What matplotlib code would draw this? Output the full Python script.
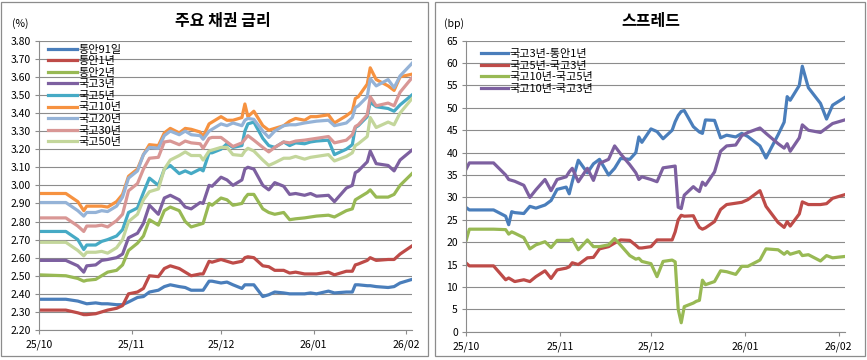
import pandas as pd
import matplotlib
matplotlib.use("Agg")
import matplotlib.pyplot as plt
import matplotlib.dates as mdates
from matplotlib.patches import Rectangle

plt.rcParams["font.family"] = ["Noto Sans CJK KR", "DejaVu Sans"]

# ---- left chart: bond yields (%) ----
dates_l = ["2025-10-01", "2025-10-10", "2025-10-14", "2025-10-16", "2025-10-17", "2025-10-20",
           "2025-10-22", "2025-10-24", "2025-10-27", "2025-10-29", "2025-10-31",
           "2025-11-03", "2025-11-05", "2025-11-07", "2025-11-10", "2025-11-12", "2025-11-14",
           "2025-11-17", "2025-11-19", "2025-11-21", "2025-11-24", "2025-11-25", "2025-11-27",
           "2025-11-28",
           "2025-12-01", "2025-12-03", "2025-12-05", "2025-12-08", "2025-12-09", "2025-12-10",
           "2025-12-12", "2025-12-15", "2025-12-17", "2025-12-19", "2025-12-22", "2025-12-24",
           "2025-12-26", "2025-12-29", "2025-12-31",
           "2026-01-02", "2026-01-06", "2026-01-08", "2026-01-12", "2026-01-14", "2026-01-15",
           "2026-01-16", "2026-01-19", "2026-01-20", "2026-01-22", "2026-01-26", "2026-01-28",
           "2026-01-30", "2026-02-03"]

msb_91d = [2.37, 2.37, 2.36, 2.35, 2.345, 2.35, 2.345, 2.345, 2.34, 2.34, 2.355,
           2.38, 2.385, 2.41, 2.42, 2.44, 2.45, 2.44, 2.435, 2.42, 2.42, 2.42, 2.47, 2.47,
           2.46, 2.465, 2.45, 2.43, 2.45, 2.45, 2.45, 2.385, 2.395, 2.41, 2.405, 2.40, 2.40, 2.40, 2.405,
           2.40, 2.415, 2.405, 2.41, 2.41, 2.45, 2.45, 2.445, 2.445, 2.44, 2.435, 2.44, 2.46,
           2.48]
msb_1y = [2.31, 2.31, 2.295, 2.285, 2.285, 2.29, 2.30, 2.31, 2.32, 2.335, 2.40,
          2.41, 2.43, 2.50, 2.495, 2.54, 2.555, 2.54, 2.52, 2.50, 2.51, 2.51, 2.58, 2.575,
          2.59, 2.58, 2.57, 2.58, 2.60, 2.605, 2.60, 2.555, 2.55, 2.53, 2.53, 2.515, 2.52, 2.51, 2.51,
          2.51, 2.52, 2.505, 2.525, 2.525, 2.56, 2.565, 2.585, 2.60, 2.585, 2.59, 2.59, 2.62,
          2.665]
msb_2y = [2.505, 2.50, 2.485, 2.47, 2.475, 2.48, 2.50, 2.52, 2.53, 2.56, 2.64,
          2.68, 2.72, 2.81, 2.78, 2.86, 2.88, 2.86, 2.80, 2.77, 2.785, 2.79, 2.90, 2.89,
          2.93, 2.92, 2.89, 2.90, 2.93, 2.95, 2.95, 2.87, 2.85, 2.84, 2.85, 2.81, 2.815, 2.82, 2.825,
          2.83, 2.835, 2.825, 2.86, 2.87, 2.92, 2.93, 2.96, 2.975, 2.935, 2.935, 2.95, 3.00,
          3.065]
ktb_3y = [2.585, 2.585, 2.555, 2.52, 2.555, 2.56, 2.585, 2.59, 2.60, 2.62, 2.71,
          2.735, 2.79, 2.89, 2.84, 2.93, 2.945, 2.92, 2.88, 2.87, 2.905, 2.90, 3.00, 2.995,
          3.045, 3.03, 3.00, 3.03, 3.09, 3.10, 3.09, 3.00, 2.975, 3.015, 2.995, 2.95, 2.955, 2.945, 2.955,
          2.94, 2.945, 2.91, 2.985, 3.00, 3.07, 3.08, 3.13, 3.19, 3.12, 3.11, 3.08, 3.14,
          3.195]
ktb_5y = [2.745, 2.745, 2.70, 2.645, 2.67, 2.67, 2.69, 2.70, 2.72, 2.755, 2.85,
          2.875, 2.96, 3.04, 3.00, 3.09, 3.11, 3.065, 3.08, 3.065, 3.09, 3.08, 3.18, 3.18,
          3.20, 3.23, 3.21, 3.22, 3.30, 3.34, 3.35, 3.26, 3.22, 3.21, 3.24, 3.22, 3.235, 3.23, 3.24,
          3.245, 3.25, 3.17, 3.20, 3.225, 3.32, 3.33, 3.38, 3.46, 3.435, 3.425, 3.41, 3.445,
          3.50]
ktb_10y = [2.955, 2.955, 2.91, 2.86, 2.885, 2.885, 2.885, 2.88, 2.91, 2.95, 3.05,
           3.09, 3.17, 3.225, 3.22, 3.29, 3.315, 3.29, 3.315, 3.31, 3.295, 3.27, 3.34, 3.35,
           3.38, 3.36, 3.36, 3.375, 3.45, 3.38, 3.41, 3.33, 3.305, 3.315, 3.33, 3.355, 3.37, 3.36, 3.38,
           3.38, 3.39, 3.345, 3.385, 3.41, 3.48, 3.49, 3.56, 3.65, 3.585, 3.55, 3.525, 3.60,
           3.615]
ktb_20y = [2.905, 2.905, 2.86, 2.83, 2.85, 2.85, 2.86, 2.855, 2.885, 2.935, 3.04,
           3.08, 3.17, 3.21, 3.205, 3.275, 3.30, 3.28, 3.30, 3.28, 3.275, 3.255, 3.30, 3.31,
           3.34, 3.33, 3.345, 3.33, 3.36, 3.37, 3.365, 3.30, 3.265, 3.30, 3.33, 3.335, 3.335, 3.345, 3.35,
           3.355, 3.36, 3.33, 3.345, 3.375, 3.43, 3.44, 3.49, 3.59, 3.55, 3.585, 3.54, 3.605,
           3.675]
ktb_30y = [2.82, 2.82, 2.775, 2.745, 2.775, 2.775, 2.78, 2.77, 2.805, 2.84, 2.97,
           3.01, 3.09, 3.15, 3.155, 3.24, 3.245, 3.225, 3.245, 3.235, 3.23, 3.205, 3.26, 3.265,
           3.265, 3.24, 3.215, 3.235, 3.255, 3.275, 3.25, 3.21, 3.185, 3.21, 3.24, 3.235, 3.245, 3.25, 3.255,
           3.26, 3.27, 3.235, 3.25, 3.28, 3.325, 3.335, 3.39, 3.49, 3.44, 3.455, 3.44, 3.515,
           3.595]
ktb_50y = [2.685, 2.685, 2.64, 2.61, 2.63, 2.63, 2.635, 2.625, 2.655, 2.70, 2.80,
           2.84, 2.92, 2.965, 2.98, 3.09, 3.14, 3.165, 3.185, 3.165, 3.165, 3.14, 3.19, 3.195,
           3.21, 3.21, 3.17, 3.165, 3.19, 3.205, 3.19, 3.14, 3.11, 3.125, 3.15, 3.15, 3.16, 3.145, 3.155,
           3.16, 3.17, 3.135, 3.16, 3.18, 3.22, 3.23, 3.27, 3.375, 3.32, 3.35, 3.335, 3.40,
           3.48]

labels_l = ["통안91일", "통안1년", "통안2년", "국고3년", "국고5년", "국고10년", "국고20년", "국고30년", "국고50년"]
colors_l = ["#4A7EBB", "#BE4B48", "#98B954", "#7D60A0", "#46AAC5", "#F69240", "#95B3D7", "#D99795", "#C3D69B"]

# ---- right chart: spreads (bp) ----
dates_r = ["2025-10-01", "2025-10-02", "2025-10-10", "2025-10-14", "2025-10-15", "2025-10-16",
           "2025-10-17", "2025-10-20", "2025-10-22", "2025-10-24", "2025-10-27", "2025-10-29",
           "2025-10-31",
           "2025-11-03", "2025-11-04", "2025-11-05", "2025-11-07", "2025-11-10", "2025-11-12",
           "2025-11-14", "2025-11-17", "2025-11-19", "2025-11-21", "2025-11-24", "2025-11-26",
           "2025-11-27", "2025-11-28",
           "2025-12-01", "2025-12-03", "2025-12-05", "2025-12-08", "2025-12-09", "2025-12-10",
           "2025-12-11", "2025-12-12", "2025-12-15", "2025-12-16", "2025-12-17", "2025-12-18",
           "2025-12-19", "2025-12-22", "2025-12-24", "2025-12-26", "2025-12-29", "2025-12-31",
           "2026-01-02", "2026-01-06", "2026-01-08", "2026-01-12", "2026-01-14", "2026-01-15",
           "2026-01-16", "2026-01-19", "2026-01-20", "2026-01-22", "2026-01-26", "2026-01-28",
           "2026-01-30", "2026-02-03"]

sp_3y_1y = [27.7, 27.2, 27.2, 25.8, 23.9, 26.8, 26.6, 26.4, 28.0, 27.6, 28.3, 29.3, 31.8,
            32.3, 30.8, 33.5, 38.3, 35.5, 37.5, 38.5, 35.0, 36.5, 38.7, 38.5, 40.0, 43.5, 42.3,
            45.3, 44.7, 43.1, 45.0, 46.9, 48.3, 49.2, 49.4, 45.8, 45.2, 44.6, 44.3, 47.3, 47.2,
            43.3, 43.9, 43.5, 44.3,
            43.6, 41.5, 38.8, 44.0, 46.8, 52.5, 51.7, 55.0, 59.3, 54.5, 51.0, 47.5, 50.6,
            52.3]
sp_5y_3y = [15.3, 14.7, 14.7, 11.6, 12.0, 11.6, 11.2, 11.6, 11.2, 12.3, 13.6, 11.9, 13.8,
            14.2, 14.5, 15.4, 15.0, 16.5, 16.6, 18.5, 19.0, 19.8, 20.5, 20.4, 19.3, 18.7, 18.7,
            19.0, 20.5, 20.5, 20.5, 22.3, 25.0, 26.0, 25.8, 25.9, 24.5, 23.3, 22.9, 23.2, 24.6,
            27.3, 28.4, 28.7, 28.9,
            29.5, 31.5, 28.0, 24.4, 23.3, 24.6, 23.6, 26.3, 29.0, 28.4, 28.4, 28.6, 29.8,
            30.6]
sp_10y_5y = [20.5, 22.9, 22.9, 22.8, 21.8, 22.3, 22.0, 21.0, 18.5, 19.4, 20.1, 18.8, 20.4,
             20.4, 20.4, 20.7, 18.3, 20.5, 19.0, 19.0, 19.4, 20.8, 19.3, 17.0, 16.2, 16.4, 15.7,
             15.2, 12.3, 15.7, 16.0, 15.6, 5.0, 2.0, 5.6, 6.4, 6.8, 7.0, 11.5, 10.5, 11.2,
             13.6, 13.4, 12.8, 14.6,
             14.6, 16.0, 18.5, 18.3, 17.3, 17.9, 17.3, 17.9, 17.0, 17.2, 15.8, 17.0, 16.5,
             16.8]
sp_10y_3y = [36.4, 37.7, 37.7, 35.0, 34.0, 33.8, 33.6, 32.7, 30.0, 31.7, 34.0, 31.5, 34.0,
             34.6, 35.7, 36.5, 33.5, 36.5, 33.8, 37.6, 38.5, 41.5, 39.7, 37.3, 35.5, 34.0, 34.6,
             34.0, 33.5, 36.6, 36.9, 37.0, 27.8, 27.5, 30.5, 32.4, 31.8, 31.3, 33.4, 32.7, 35.7,
             40.3, 41.5, 41.7, 43.8,
             44.5, 45.5, 44.3, 42.0, 41.0, 42.0, 40.3, 43.3, 46.2, 45.0, 44.5, 45.5, 46.5,
             47.3]

labels_r = ["국고3년-통안1년", "국고5년-국고3년", "국고10년-국고5년", "국고10년-국고3년"]
colors_r = ["#4A7EBB", "#BE4B48", "#98B954", "#7D60A0"]

W, H = 867, 360
fig = plt.figure(figsize=(W / 100, H / 100), dpi=100)
fig.patch.set_facecolor("white")

# chart area frames
for x0, x1 in [(1, 428), (435, 865)]:
    fig.add_artist(Rectangle((x0 / W, 1 - 356 / H), (x1 - x0) / W, 354 / H,
                             transform=fig.transFigure, fill=False, edgecolor="#8C8C8C", lw=0.9))

ax1 = fig.add_axes([39 / W, 1 - 330 / H, 373 / W, 289.3 / H])
ax2 = fig.add_axes([466.3 / W, 1 - 331.7 / H, 378.4 / W, 291 / H])

xl = pd.to_datetime(dates_l)
for vals, lab, col in zip([msb_91d, msb_1y, msb_2y, ktb_3y, ktb_5y, ktb_10y, ktb_20y, ktb_30y, ktb_50y],
                          labels_l, colors_l):
    ax1.plot(xl, vals, color=col, lw=2.3, label=lab, solid_joinstyle="round")

xr = pd.to_datetime(dates_r)
for vals, lab, col in zip([sp_3y_1y, sp_5y_3y, sp_10y_5y, sp_10y_3y], labels_r, colors_r):
    ax2.plot(xr, vals, color=col, lw=2.3, label=lab, solid_joinstyle="round")

ax1.set_ylim(2.2, 3.8)
ax1.set_yticks([2.2 + 0.1 * i for i in range(17)])
ax1.yaxis.set_major_formatter(plt.FuncFormatter(lambda v, p: f"{v:.2f}"))
ax2.set_ylim(0, 65)
ax2.set_yticks(range(0, 66, 5))

for ax in (ax1, ax2):
    ax.set_xlim(pd.Timestamp("2025-10-01"), pd.Timestamp("2026-02-03"))
    ax.xaxis.set_major_locator(mdates.MonthLocator())
    ax.xaxis.set_major_formatter(mdates.DateFormatter("%y/%m"))
    ax.grid(axis="y", color="#8C8C8C", lw=0.8)
    ax.set_axisbelow(True)
    for s in ("top", "right"):
        ax.spines[s].set_visible(False)
    for s in ("left", "bottom"):
        ax.spines[s].set_color("#8C8C8C")
        ax.spines[s].set_linewidth(0.8)
    ax.tick_params(axis="both", labelsize=7.5, length=3, color="#8C8C8C", width=0.8)
    ax.tick_params(axis="y", pad=3)
    ax.tick_params(axis="x", pad=4)

ax1.legend(loc="upper left", bbox_to_anchor=(9 / 373, 1 - 4 / 289), frameon=False,
           fontsize=8, handlelength=2.6, handletextpad=0.15, labelspacing=0.14,
           borderpad=0, borderaxespad=0)
ax2.legend(loc="upper left", bbox_to_anchor=(15 / 378, 1 - 8.5 / 291), frameon=False,
           fontsize=8, handlelength=2.4, handletextpad=0.15, labelspacing=0.14,
           borderpad=0, borderaxespad=0)

fig.text(223 / W, 1 - 21 / H, "주요 채권 금리", ha="center", va="center", fontsize=11.5, fontweight="bold")
fig.text(651 / W, 1 - 21 / H, "스프레드", ha="center", va="center", fontsize=11.5, fontweight="bold")
fig.text(20 / W, 1 - 24 / H, "(%)", ha="center", va="center", fontsize=7.5)
fig.text(454 / W, 1 - 24 / H, "(bp)", ha="center", va="center", fontsize=7.5)

fig.savefig("out.png", dpi=100)
